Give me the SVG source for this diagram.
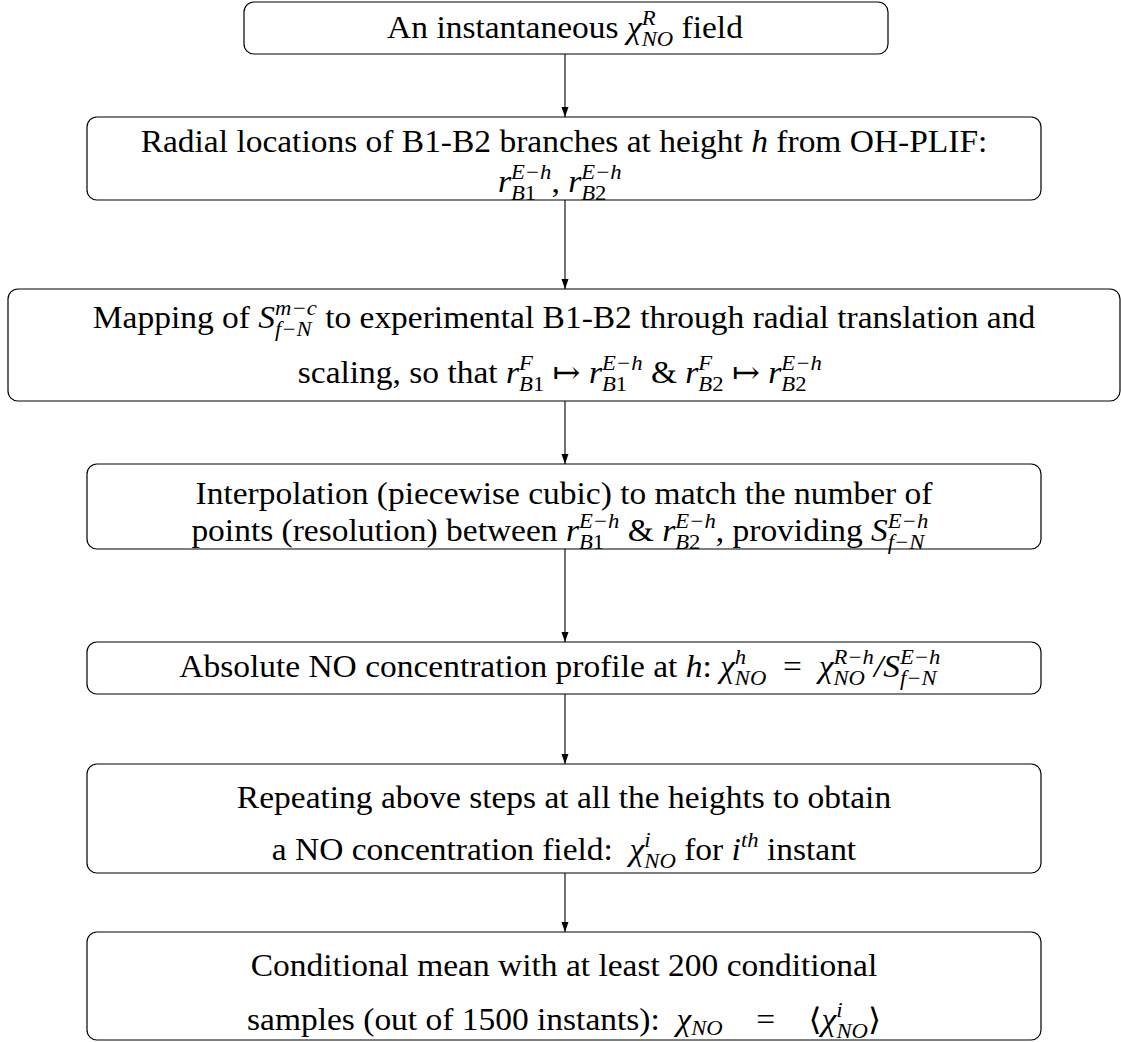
<svg xmlns="http://www.w3.org/2000/svg" width="1121" height="1042" viewBox="0 0 1121 1042">
<defs>
<style>
.box{fill:#fff;stroke:#000;stroke-width:1.2}
.t{font-family:'Liberation Serif','Times New Roman',Times,'DejaVu Serif',serif;font-size:31px;fill:#000;text-anchor:middle}
.i{font-style:italic}
.s{font-size:21px}
.c{stroke:#000;stroke-width:1.1;fill:none}
</style>
<marker id="ah" markerWidth="10" markerHeight="8" refX="10" refY="4" orient="auto" markerUnits="userSpaceOnUse">
<path d="M0,0.5 L10,4 L0,7.5 z" fill="#000"/>
</marker>
</defs>
<rect width="1121" height="1042" fill="#fff"/>
<g id="connectors">
<line class="c" x1="565" y1="54" x2="565" y2="117" marker-end="url(#ah)"/>
<line class="c" x1="565" y1="200" x2="565" y2="289" marker-end="url(#ah)"/>
<line class="c" x1="565" y1="401" x2="565" y2="464" marker-end="url(#ah)"/>
<line class="c" x1="565" y1="549" x2="565" y2="642" marker-end="url(#ah)"/>
<line class="c" x1="565" y1="694" x2="565" y2="764" marker-end="url(#ah)"/>
<line class="c" x1="565" y1="873" x2="565" y2="932" marker-end="url(#ah)"/>
</g>
<g id="node1">
<rect class="box" x="244" y="2" width="644" height="52" rx="10"/>
<g transform="translate(565 0) scale(1.08 1)"><text class="t" x="0" y="38" xml:space="preserve">An instantaneous <tspan class="i">χ</tspan><tspan class="s i" dy="-13">R</tspan><tspan class="s i" dx="-12.8" dy="21">NO</tspan><tspan dy="-8"> field</tspan></text></g>
</g>
<g id="node2">
<rect class="box" x="87" y="117" width="954" height="83" rx="10"/>
<g transform="translate(564 0) scale(1.08 1)">
<text class="t" x="0" y="152" xml:space="preserve">Radial locations of B1-B2 branches at height <tspan class="i">h</tspan> from OH-PLIF:</text>
<text class="t" x="0" y="192" xml:space="preserve"><tspan class="i">r</tspan><tspan class="s i" dy="-13">E−h</tspan><tspan class="s" dx="-37.5" dy="21"><tspan class="i">B</tspan>1</tspan><tspan dx="14.2" dy="-8">, </tspan><tspan class="i">r</tspan><tspan class="s i" dy="-13">E−h</tspan><tspan class="s" dx="-37.5" dy="21"><tspan class="i">B</tspan>2</tspan><tspan dx="14.2" dy="-8"> </tspan></text>
</g>
</g>
<g id="node3">
<rect class="box" x="8" y="289" width="1112" height="112" rx="10"/>
<g transform="translate(564 0) scale(1.08 1)">
<text class="t" x="0" y="328" xml:space="preserve">Mapping of <tspan class="i">S</tspan><tspan class="s i" dy="-13">m−c</tspan><tspan class="s i" dx="-38.7" dy="21">f−N</tspan><tspan dx="4.7" dy="-8"> to experimental B1-B2 through radial translation and</tspan></text>
<text class="t" x="0" y="383" xml:space="preserve">scaling, so that <tspan class="i">r</tspan><tspan class="s i" dy="-13">F</tspan><tspan class="s" dx="-12.8" dy="21"><tspan class="i">B</tspan>1</tspan><tspan dy="-8"> ↦ </tspan><tspan class="i">r</tspan><tspan class="s i" dy="-13">E−h</tspan><tspan class="s" dx="-37.5" dy="21"><tspan class="i">B</tspan>1</tspan><tspan dx="14.2" dy="-8"> &amp; </tspan><tspan class="i">r</tspan><tspan class="s i" dy="-13">F</tspan><tspan class="s" dx="-12.8" dy="21"><tspan class="i">B</tspan>2</tspan><tspan dy="-8"> ↦ </tspan><tspan class="i">r</tspan><tspan class="s i" dy="-13">E−h</tspan><tspan class="s" dx="-37.5" dy="21"><tspan class="i">B</tspan>2</tspan><tspan dx="14.2" dy="-8"> </tspan></text>
</g>
</g>
<g id="node4">
<rect class="box" x="87" y="464" width="954" height="85" rx="10"/>
<g transform="translate(564 0) scale(1.08 1)">
<text class="t" x="0" y="504" xml:space="preserve">Interpolation (piecewise cubic) to match the number of</text>
<text class="t" x="0" y="541" xml:space="preserve">points (resolution) between <tspan class="i">r</tspan><tspan class="s i" dy="-13">E−h</tspan><tspan class="s" dx="-37.5" dy="21"><tspan class="i">B</tspan>1</tspan><tspan dx="14.2" dy="-8"> &amp; </tspan><tspan class="i">r</tspan><tspan class="s i" dy="-13">E−h</tspan><tspan class="s" dx="-37.5" dy="21"><tspan class="i">B</tspan>2</tspan><tspan dx="14.2" dy="-8">, providing </tspan><tspan class="i">S</tspan><tspan class="s i" dy="-13">E−h</tspan><tspan class="s i" dx="-37.5" dy="21">f−N</tspan><tspan dx="3.5" dy="-8"> </tspan></text>
</g>
</g>
<g id="node5">
<rect class="box" x="87" y="642" width="954" height="52" rx="10"/>
<g transform="translate(564 0) scale(1.08 1)">
<text class="t" x="0" y="677" xml:space="preserve">Absolute NO concentration profile at <tspan class="i">h</tspan>: <tspan class="i">χ</tspan><tspan class="s i" dy="-13">h</tspan><tspan class="s i" dx="-10.5" dy="21">NO</tspan><tspan dy="-8">  =  </tspan><tspan class="i">χ</tspan><tspan class="s i" dy="-13">R−h</tspan><tspan class="s i" dx="-37.5" dy="21">NO</tspan><tspan dx="8.3" dy="-8" class="i">/S</tspan><tspan class="s i" dy="-13">E−h</tspan><tspan class="s i" dx="-37.5" dy="21">f−N</tspan><tspan dx="3.5" dy="-8"> </tspan></text>
</g>
</g>
<g id="node6">
<rect class="box" x="87" y="764" width="954" height="109" rx="10"/>
<g transform="translate(564 0) scale(1.08 1)">
<text class="t" x="0" y="808" xml:space="preserve">Repeating above steps at all the heights to obtain</text>
<text class="t" x="0" y="860" xml:space="preserve">a NO concentration field:  <tspan class="i">χ</tspan><tspan class="s i" dy="-13">i</tspan><tspan class="s i" dx="-5.8" dy="21">NO</tspan><tspan dy="-8"> for </tspan><tspan class="i">i</tspan><tspan class="s i" dy="-13">th</tspan><tspan dy="13"> instant</tspan></text>
</g>
</g>
<g id="node7">
<rect class="box" x="87" y="932" width="954" height="108" rx="10"/>
<g transform="translate(564 0) scale(1.08 1)">
<text class="t" x="0" y="976" xml:space="preserve">Conditional mean with at least 200 conditional</text>
<text class="t" x="0" y="1030" xml:space="preserve">samples (out of 1500 instants):  <tspan class="i">χ</tspan><tspan class="s i" dy="5">NO</tspan><tspan dy="-5">    =    ⟨</tspan><tspan class="i">χ</tspan><tspan class="s i" dy="-13">i</tspan><tspan class="s i" dx="-5.8" dy="21">NO</tspan><tspan dy="-8">⟩</tspan></text>
</g>
</g>
</svg>
